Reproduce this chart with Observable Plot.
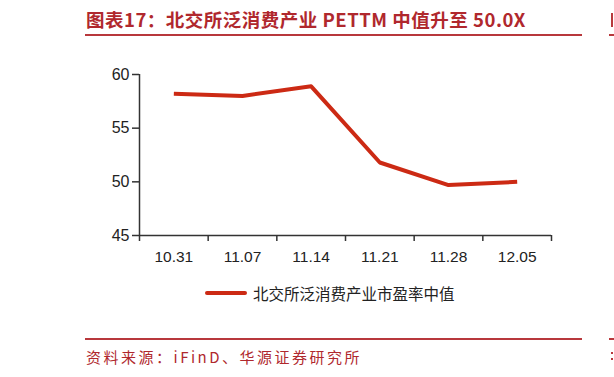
<!DOCTYPE html>
<html>
<head>
<meta charset="utf-8">
<script src="https://cdn.jsdelivr.net/npm/d3@7"></script>
<script src="https://cdn.jsdelivr.net/npm/@observablehq/plot@0.6"></script>
<style>
  html, body { margin: 0; padding: 0; background: #fff; }
  #page { position: relative; width: 614px; height: 377px; overflow: hidden; background: #fff; }
  .red { color: #b0282d; }
  #title { position: absolute; left: 86px; top: 8px; font-family: "Noto Sans CJK SC", sans-serif; font-weight: bold; font-size: 18.5px; line-height: 22px; white-space: nowrap; letter-spacing: 0.5px; }
  .rule { position: absolute; height: 2px; background: #b8383c; }
  .bar { position: absolute; background: #b8383c; }
  #source { position: absolute; left: 86px; top: 347px; font-family: "Noto Sans CJK SC", sans-serif; font-size: 15px; line-height: 20px; white-space: nowrap; letter-spacing: 2.5px; }
  #chart { position: absolute; left: 0; top: 0; }
  #legend { position: absolute; left: 205px; top: 282px; display: flex; align-items: center; font-family: "Liberation Sans", Arial, "Noto Sans CJK SC", sans-serif; font-size: 15.5px; color: #222; white-space: nowrap; }
  #legend .swatch { width: 42px; height: 4px; background: #cc2a14; border-radius: 2px; margin-right: 6px; }
</style>
</head>
<body>
<div id="page">
  <div id="title" class="red"></div>
  <div class="rule" style="left:85px; width:497px; top:34px;"></div>
  <div class="rule" style="left:609px; width:10px; top:34px;"></div>
  <div class="bar" style="left:611px; width:2px; top:13px; height:14px;"></div>
  <div id="chart"></div>
  <div id="legend"><div class="swatch"></div><span id="legendText"></span></div>
  <div class="rule" style="left:85px; width:497px; top:338px;"></div>
  <div class="rule" style="left:609px; width:10px; top:338px;"></div>
  <div class="bar" style="left:611px; width:2px; top:352px; height:2px;"></div>
  <div class="bar" style="left:611px; width:2px; top:358px; height:2px;"></div>
  <div id="source" class="red"></div>
</div>
<script>
const titleText = "图表17：北交所泛消费产业 PETTM 中值升至 50.0X";
const sourceText = "资料来源：iFinD、华源证券研究所";
const seriesName = "北交所泛消费产业市盈率中值";
const dates = ["10.31", "11.07", "11.14", "11.21", "11.28", "12.05"];
const values = [58.2, 58.0, 58.9, 51.8, 49.7, 50.0];
const yTicks = [45, 50, 55, 60];

document.getElementById("title").textContent = titleText;
document.getElementById("source").textContent = sourceText;
document.getElementById("legendText").textContent = seriesName;

const idx = dates.map((d, i) => i);
const bounds = [...idx.map(i => i - 0.5), dates.length - 0.5];
const data = dates.map((d, i) => ({i, date: d, value: values[i]}));
const axisColor = "#333";

const chart = Plot.plot({
  width: 614,
  height: 377,
  marginLeft: 139,
  marginRight: 63,
  marginTop: 74,
  marginBottom: 142,
  style: {fontFamily: "'Liberation Sans', Arial, sans-serif", fontSize: "15px", color: "#222", background: "transparent"},
  x: {type: "linear", domain: [-0.5, dates.length - 0.5], axis: null},
  y: {domain: [45, 60], axis: null},
  marks: [
    Plot.ruleX([-0.5], {y1: 45, y2: 60, stroke: axisColor, strokeWidth: 1.5}),
    Plot.ruleY([45], {x1: -0.5, x2: dates.length - 0.5, stroke: axisColor, strokeWidth: 1.5}),
    Plot.axisY({ticks: yTicks, tickSize: 7, tickPadding: 3, stroke: axisColor, strokeWidth: 1.5, fontSize: 16, fill: "#222", label: null}),
    Plot.axisX({ticks: bounds, tickSize: 6, stroke: axisColor, strokeWidth: 1.5, tickFormat: () => "", label: null}),
    Plot.axisX({ticks: idx, tickSize: 0, tickPadding: 15, tickFormat: i => dates[i], fontSize: 15.5, fill: "#222", label: null}),
    Plot.line(data, {x: "i", y: "value", stroke: "#cc2a14", strokeWidth: 4, strokeLinejoin: "round", strokeLinecap: "butt"})
  ]
});
document.getElementById("chart").appendChild(chart);
</script>
</body>
</html>
